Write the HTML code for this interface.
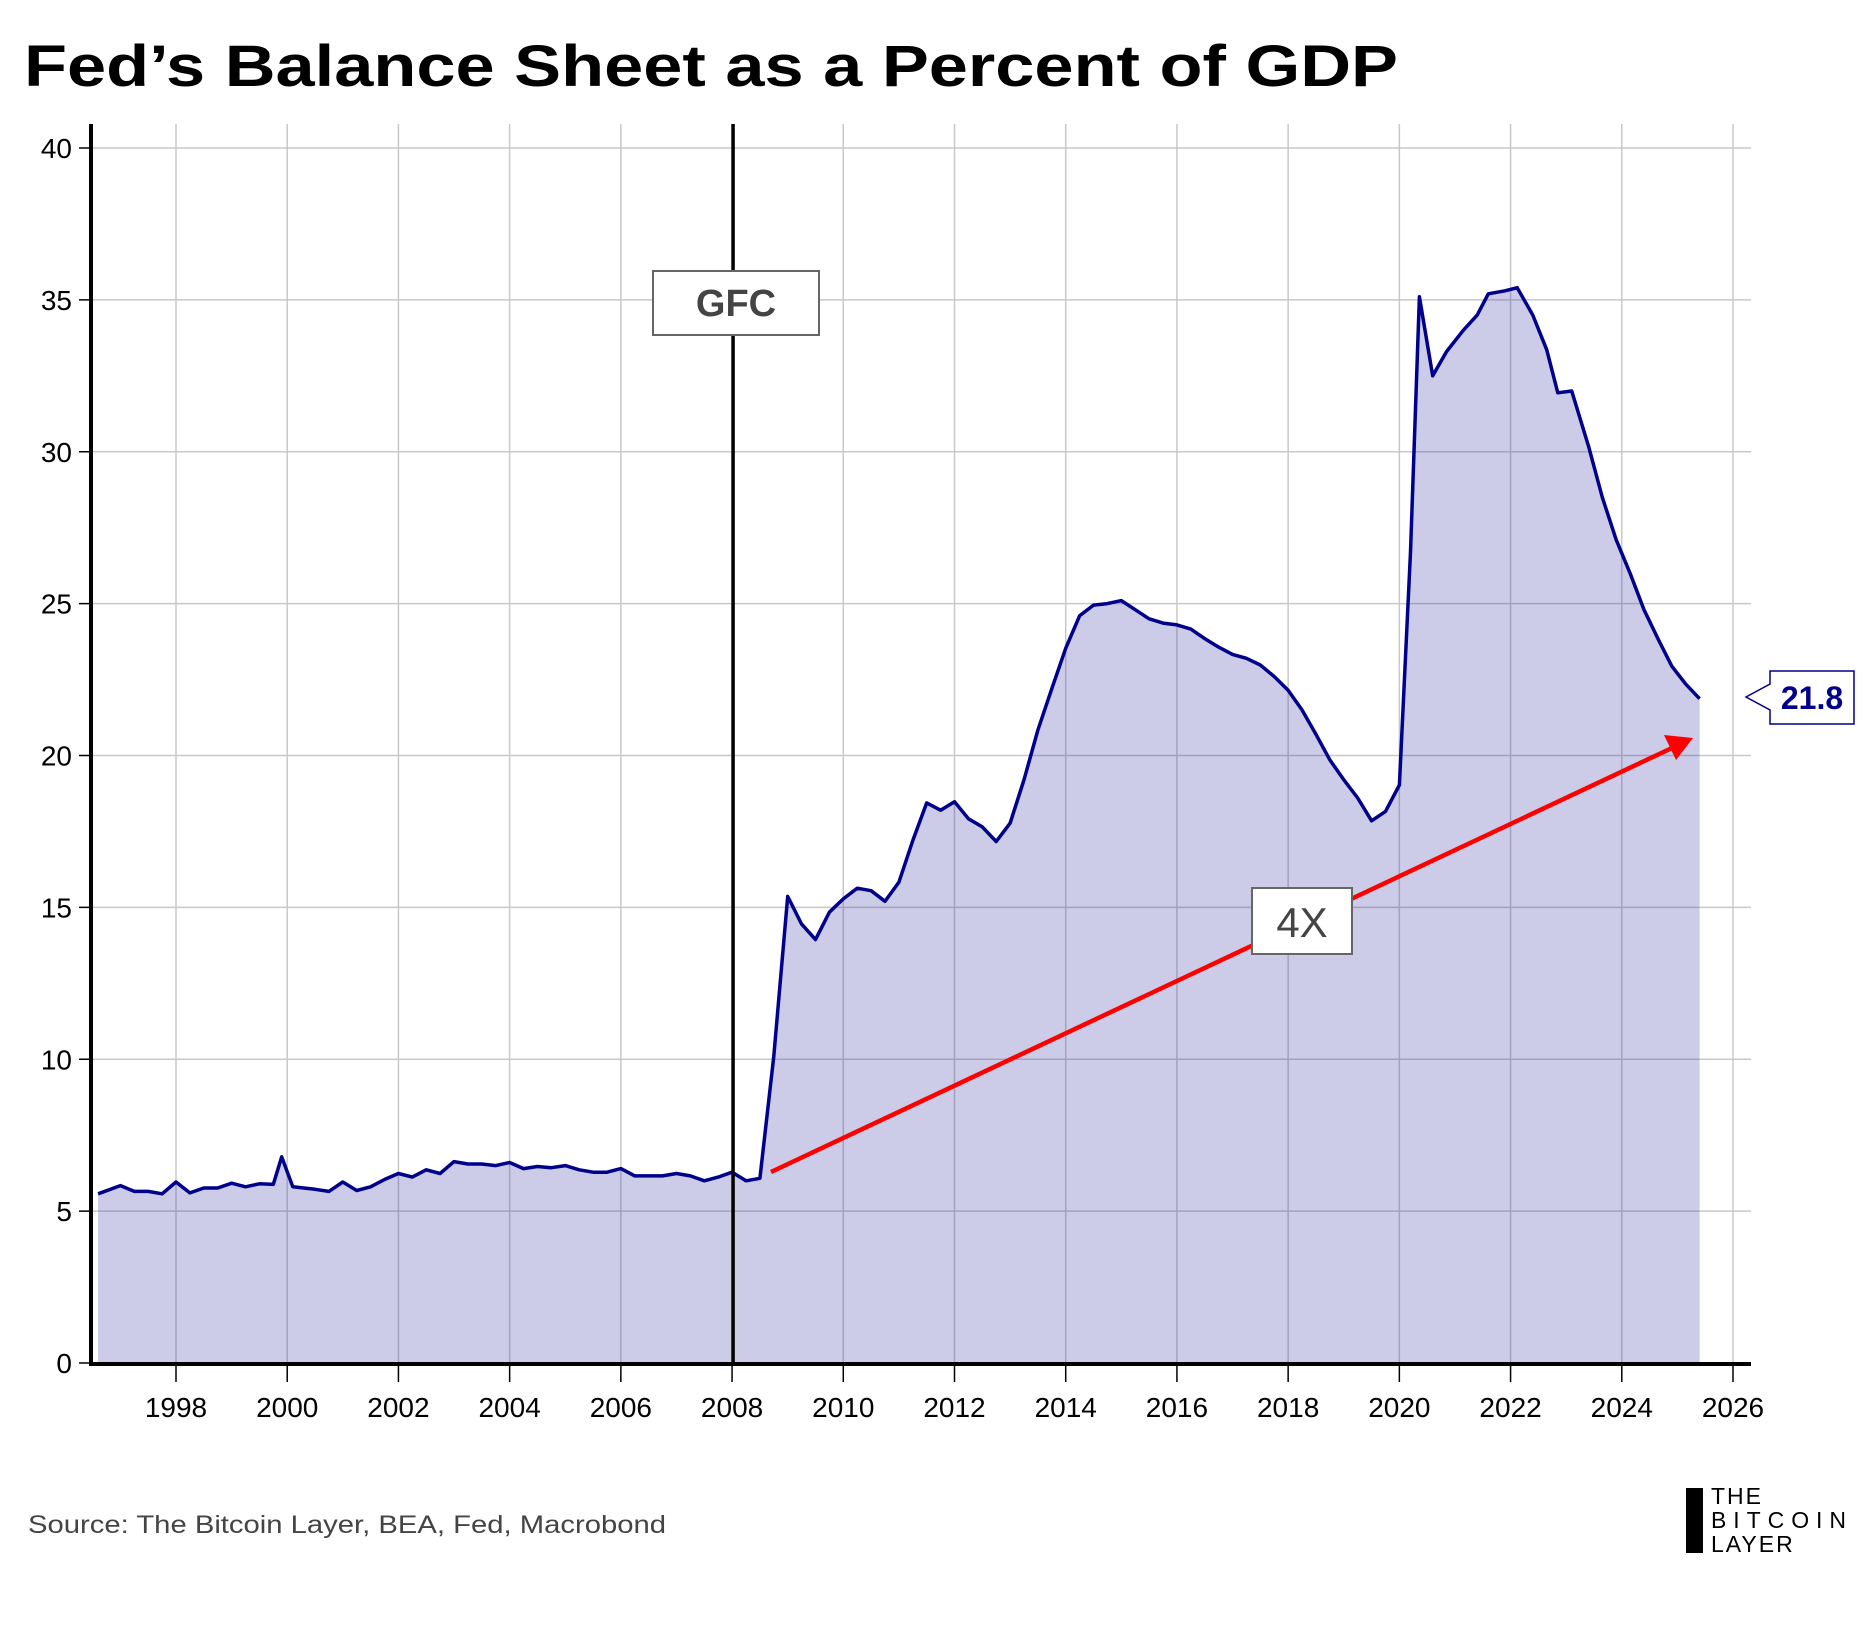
<!DOCTYPE html>
<html><head><meta charset="utf-8">
<style>
html,body{margin:0;padding:0;background:#fff;}
svg{display:block;font-family:"Liberation Sans",sans-serif;}
</style></head>
<body>
<svg id="chart" width="1875" height="1625" viewBox="0 0 1875 1625">
<text x="24" y="86" font-size="58" font-weight="bold" fill="#000" textLength="1374" lengthAdjust="spacingAndGlyphs">Fed’s Balance Sheet as a Percent of GDP</text>
<g id="grid"></g>
<g id="area"></g>
<g id="axes"></g>
<g id="annot"></g>
<text x="28" y="1533" font-size="25" fill="#444" textLength="638" lengthAdjust="spacingAndGlyphs">Source: The Bitcoin Layer, BEA, Fed, Macrobond</text>
<g>
<rect x="1686" y="1488" width="17" height="65" fill="#000"/>
<text x="1711" y="1504" font-size="23" letter-spacing="2" fill="#000">THE</text>
<text x="1711" y="1528" font-size="23" letter-spacing="2" fill="#000" textLength="137">BITCOIN</text>
<text x="1711" y="1552" font-size="23" letter-spacing="2" fill="#000">LAYER</text>
</g>
</svg>
<script>
const years = [1996.6,1997.0,1997.25,1997.5,1997.75,1998.0,1998.25,1998.5,1998.75,1999.0,1999.25,1999.5,1999.75,1999.9,2000.1,2000.5,2000.75,2001.0,2001.25,2001.5,2001.75,2002.0,2002.25,2002.5,2002.75,2003.0,2003.25,2003.5,2003.75,2004.0,2004.25,2004.5,2004.75,2005.0,2005.25,2005.5,2005.75,2006.0,2006.25,2006.5,2006.75,2007.0,2007.25,2007.5,2007.75,2008.0,2008.25,2008.5,2008.75,2009.0,2009.25,2009.5,2009.75,2010.0,2010.25,2010.5,2010.75,2011.0,2011.25,2011.5,2011.75,2012.0,2012.25,2012.5,2012.75,2013.0,2013.25,2013.5,2013.75,2014.0,2014.25,2014.5,2014.75,2015.0,2015.25,2015.5,2015.75,2016.0,2016.25,2016.5,2016.75,2017.0,2017.25,2017.5,2017.75,2018.0,2018.25,2018.5,2018.75,2019.0,2019.25,2019.5,2019.75,2020.0,2020.2,2020.36,2020.6,2020.85,2021.15,2021.4,2021.6,2021.9,2022.12,2022.4,2022.65,2022.85,2023.1,2023.4,2023.65,2023.9,2024.15,2024.4,2024.65,2024.9,2025.15,2025.4];
const values = [5.57,5.84,5.65,5.65,5.57,5.96,5.6,5.76,5.76,5.92,5.8,5.9,5.88,6.79,5.8,5.72,5.65,5.96,5.68,5.8,6.04,6.24,6.12,6.36,6.24,6.63,6.55,6.55,6.5,6.6,6.4,6.47,6.43,6.5,6.36,6.28,6.28,6.4,6.16,6.16,6.16,6.24,6.16,6.0,6.12,6.28,6.0,6.08,10.1,15.36,14.45,13.94,14.84,15.28,15.63,15.55,15.2,15.83,17.2,18.44,18.2,18.48,17.92,17.65,17.17,17.77,19.2,20.84,22.2,23.53,24.6,24.95,25.0,25.1,24.8,24.5,24.36,24.3,24.16,23.85,23.57,23.33,23.2,22.98,22.6,22.15,21.5,20.7,19.86,19.2,18.6,17.85,18.16,19.03,26.7,35.1,32.5,33.3,34.0,34.5,35.2,35.3,35.4,34.5,33.36,31.94,32.0,30.2,28.5,27.1,26.0,24.8,23.85,22.94,22.35,21.87];
const yTicks = [0,5,10,15,20,25,30,35,40];
const xTicks = [1998,2000,2002,2004,2006,2008,2010,2012,2014,2016,2018,2020,2022,2024,2026];
const lastLabel = "21.8";
const gfcYear = 2008;

const NS="http://www.w3.org/2000/svg";
const X0=91, X1=1751, YT=124, YB=1364;
function xs(y){return 176+(y-1998)*(1733-176)/28;}
function ys(v){return 1363-v*(1363-148)/40;}
function mk(tag,attrs,parent){const e=document.createElementNS(NS,tag);for(const k in attrs)e.setAttribute(k,attrs[k]);parent.appendChild(e);return e;}
const grid=document.getElementById('grid'),area=document.getElementById('area'),axes=document.getElementById('axes'),annot=document.getElementById('annot');

yTicks.forEach(v=>{
  const l=mk('line',{x1:X0,x2:X1,y1:ys(v),y2:ys(v),stroke:'#c8c8c8','stroke-width':1.5},grid);
  
  
  const t=mk('line',{x1:X0-12,x2:X0,y1:ys(v),y2:ys(v),stroke:'#000','stroke-width':1.5},axes);
  
  
  const tx=mk('text',{x:72,y:ys(v)+10,'text-anchor':'end','font-size':28,fill:'#000'},axes);
  tx.textContent=v;
  
  
});
xTicks.forEach(y=>{
  const l=mk('line',{x1:xs(y),x2:xs(y),y1:YT,y2:YB,stroke:'#c8c8c8','stroke-width':1.5},grid);
  
  
  const t=mk('line',{x1:xs(y),x2:xs(y),y1:YB,y2:YB+18,stroke:'#000','stroke-width':1.5},axes);
  
  
  const tx=mk('text',{x:xs(y),y:1417,'text-anchor':'middle','font-size':28,fill:'#000'},axes);
  tx.textContent=y;
  
  
});

let pts=years.map((y,i)=>xs(y).toFixed(1)+','+ys(values[i]).toFixed(1));
const fill=mk('polygon',{points:xs(years[0]).toFixed(1)+','+ys(0)+' '+pts.join(' ')+' '+xs(years[years.length-1]).toFixed(1)+','+ys(0),fill:'#2b2ba0','fill-opacity':0.24},area);


const line=mk('polyline',{points:pts.join(' '),fill:'none',stroke:'#00008b','stroke-width':3.5,'stroke-linejoin':'round'},area);



const yax=mk('line',{x1:X0,x2:X0,y1:YT,y2:YB+2,stroke:'#000','stroke-width':4},axes);


const xax=mk('line',{x1:X0-2,x2:X1,y1:YB,y2:YB,stroke:'#000','stroke-width':4},axes);



const gx=xs(gfcYear)+1;
const gl=mk('line',{x1:gx,x2:gx,y1:YT,y2:YB,stroke:'#000','stroke-width':3.5},annot);


const gb=mk('rect',{x:653,y:271,width:166,height:64,fill:'#fff',stroke:'#666','stroke-width':2},annot);


const gt=mk('text',{x:736,y:316,'text-anchor':'middle','font-size':38,'font-weight':'bold',fill:'#444'},annot);
gt.textContent='GFC';



const ar=mk('line',{x1:771,y1:1172,x2:1672,y2:748,stroke:'#ff0000','stroke-width':4.5},annot);


const ah=mk('polygon',{points:'1693,738 1664,735 1676,760',fill:'#ff0000'},annot);


const fb=mk('rect',{x:1252,y:888,width:100,height:66,fill:'#fff',stroke:'#666','stroke-width':2},annot);


const ft=mk('text',{x:1302,y:937,'text-anchor':'middle','font-size':42,fill:'#444'},annot);
ft.textContent='4X';



const lv=mk('path',{d:'M1746,697 L1770,684 L1770,671 L1854,671 L1854,724 L1770,724 L1770,710 Z',fill:'#fff',stroke:'#00008b','stroke-width':1.5},annot);


const lt=mk('text',{x:1812,y:709,'text-anchor':'middle','font-size':32,'font-weight':'bold',fill:'#00008b'},annot);
lt.textContent=lastLabel;


</script>
</body></html>
